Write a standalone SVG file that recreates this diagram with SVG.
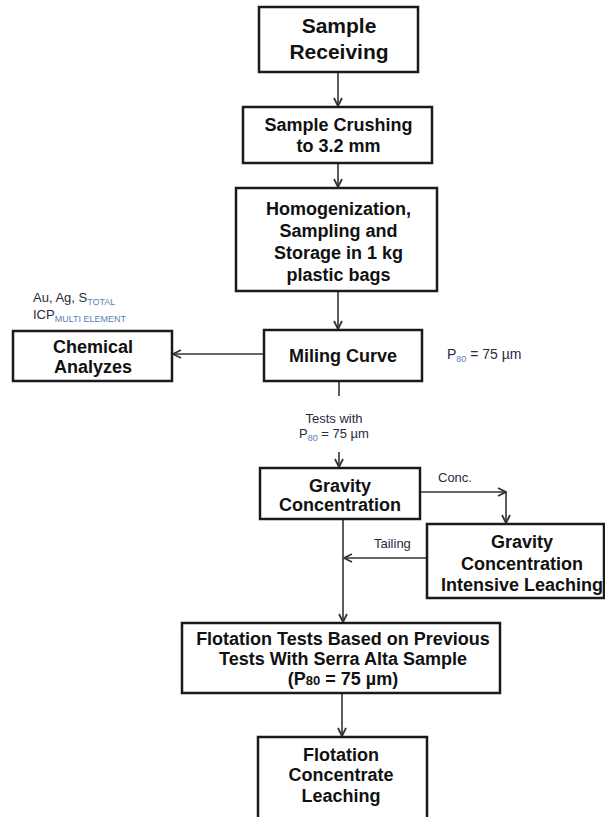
<svg xmlns="http://www.w3.org/2000/svg" width="605" height="817" viewBox="0 0 605 817">
<style>
.box{fill:#fff;stroke:#1a1a1a;stroke-width:2.5}
.t{font-family:"Liberation Sans",Arial,sans-serif;font-weight:bold;font-size:18px;fill:#111;text-anchor:middle}
.s{font-family:"Liberation Sans",Arial,sans-serif;font-size:13px;fill:#2a2a40}
.sub{font-size:9px;fill:#5b7fb5}
.c{fill:none;stroke:#333;stroke-width:1.6}
</style>
<defs>
<marker id="ah" viewBox="0 0 10 10" refX="9" refY="5" markerWidth="10" markerHeight="10" markerUnits="userSpaceOnUse" orient="auto">
<path d="M1,1 L9,5 L1,9" fill="none" stroke="#333" stroke-width="1.8"/>
</marker>
</defs>
<g id="connectors">
<path class="c" d="M338,72 V106" marker-end="url(#ah)"/>
<path class="c" d="M338,163 V187" marker-end="url(#ah)"/>
<path class="c" d="M338,291 V329" marker-end="url(#ah)"/>
<path class="c" d="M264,354 H173" marker-end="url(#ah)"/>
<path class="c" d="M339,381 V396"/>
<path class="c" d="M339,452 V467" marker-end="url(#ah)"/>
<path class="c" d="M420,492 H506" marker-end="url(#ah)"/>
<path class="c" d="M506,492 V523" marker-end="url(#ah)"/>
<path class="c" d="M427,558 H344" marker-end="url(#ah)"/>
<path class="c" d="M343,519 V622" marker-end="url(#ah)"/>
<path class="c" d="M342,693 V736" marker-end="url(#ah)"/>
</g>
<g id="n1"><rect class="box" x="259" y="7" width="159" height="65"/>
<text class="t" style="font-size:21px" x="339" y="33">Sample</text>
<text class="t" style="font-size:21px" x="339" y="59">Receiving</text></g>
<g id="n2"><rect class="box" x="243" y="107" width="189" height="56"/>
<text class="t" x="338.5" y="131">Sample Crushing</text>
<text class="t" x="338.5" y="152">to 3.2 mm</text></g>
<g id="n3"><rect class="box" x="236" y="188" width="201" height="103"/>
<text class="t" x="338.5" y="215">Homogenization,</text>
<text class="t" x="338.5" y="237">Sampling and</text>
<text class="t" x="338.5" y="259">Storage in 1 kg</text>
<text class="t" x="338.5" y="281">plastic bags</text></g>
<g id="n4"><rect class="box" x="264" y="330" width="158" height="51"/>
<text class="t" x="343" y="362">Miling Curve</text></g>
<g id="n5"><rect class="box" x="13" y="331" width="159" height="50"/>
<text class="t" x="93" y="353">Chemical</text>
<text class="t" x="93" y="373">Analyzes</text></g>
<g id="n6"><rect class="box" x="260" y="468" width="160" height="51"/>
<text class="t" x="340" y="492">Gravity</text>
<text class="t" x="340" y="511">Concentration</text></g>
<g id="n7"><rect class="box" x="427" y="524" width="177" height="74"/>
<text class="t" x="522" y="548">Gravity</text>
<text class="t" x="522" y="570">Concentration</text>
<text class="t" x="522" y="591">Intensive Leaching</text></g>
<g id="n8"><rect class="box" x="182" y="623" width="318" height="70"/>
<text class="t" x="343" y="645">Flotation Tests Based on Previous</text>
<text class="t" x="343" y="665">Tests With Serra Alta Sample</text>
<text class="t" x="343" y="685">(P<tspan style="font-size:13px;font-weight:bold">80</tspan> = 75 µm)</text></g>
<g id="n9"><rect class="box" x="258" y="737" width="169" height="95"/>
<text class="t" x="341" y="761">Flotation</text>
<text class="t" x="341" y="781">Concentrate</text>
<text class="t" x="341" y="802">Leaching</text></g>
<g id="labels">
<text class="s" x="33" y="302">Au, Ag, S<tspan class="sub" dy="3">TOTAL</tspan></text>
<text class="s" x="33" y="319">ICP<tspan class="sub" dy="3">MULTI ELEMENT</tspan></text>
<text class="s" x="447" y="359" style="font-size:14px">P<tspan class="sub" dy="3">80</tspan><tspan dy="-3"> = 75 µm</tspan></text>
<text class="s" x="334" y="423" text-anchor="middle">Tests with</text>
<text class="s" x="334" y="438" text-anchor="middle">P<tspan class="sub" dy="3">80</tspan><tspan dy="-3"> = 75 µm</tspan></text>
<text class="s" x="438" y="482">Conc.</text>
<text class="s" x="374" y="548">Tailing</text>
</g>
</svg>
